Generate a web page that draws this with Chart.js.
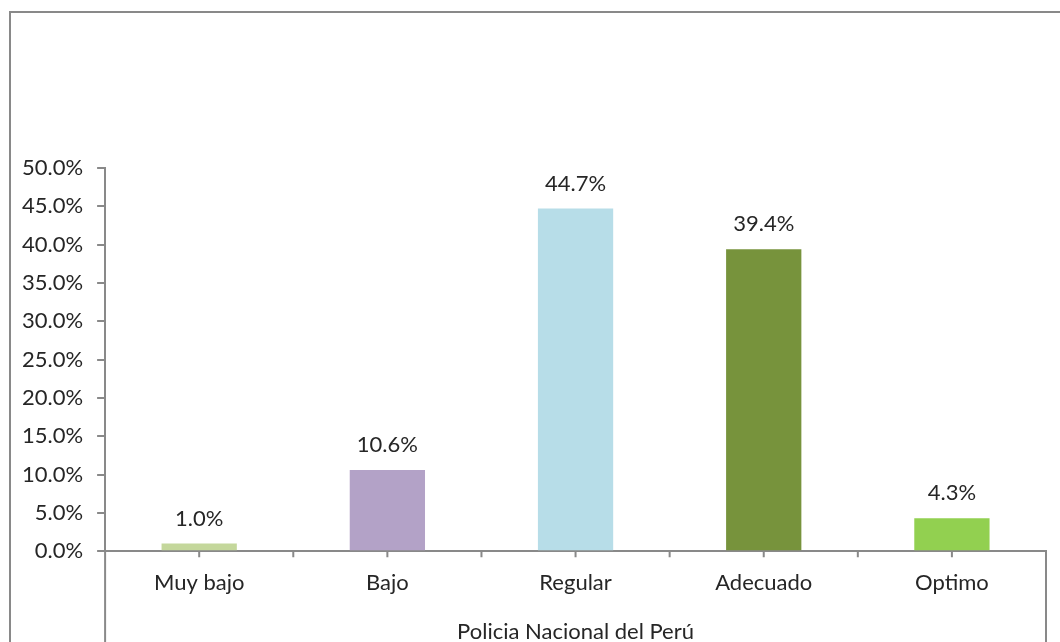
<!DOCTYPE html>
<html>
<head>
<meta charset="utf-8">
<script src="https://cdn.jsdelivr.net/npm/chart.js@4.4.1/dist/chart.umd.min.js"></script>
<style>
    html, body { margin: 0; padding: 0; background: #fff; }
    #wrap { width: 1060px; height: 642px; position: relative; }
</style>
</head>
<body>
<div id="wrap"><canvas id="nivelChart"></canvas></div>
<script>
// datos del gráfico
const categorias = ["Muy bajo", "Bajo", "Regular", "Adecuado", "Optimo"];
const porcentajes = [1.0, 10.6, 44.7, 39.4, 4.3];
const colores = ["#c4d79b", "#b3a2c7", "#b7dde8", "#77933c", "#92d050"];
const tituloEje = "Policia Nacional del Perú";

const FUENTE = "Lato, 'Open Sans', sans-serif";
const GRIS = "#898989";
const TEXTO = "#262626";

// etiquetas encima de las barras + marco y líneas de la categoría
const extras = {
    id: "extras",
    afterDraw(chart) {
        const ctx = chart.ctx;
        const x = chart.scales.x;
        const area = chart.chartArea;
        const alto = chart.height;

        ctx.save();
        ctx.strokeStyle = GRIS;
        ctx.lineWidth = 2;

        // marco exterior
        ctx.beginPath();
        ctx.moveTo(10, alto);
        ctx.lineTo(10, 12);
        ctx.lineTo(chart.width, 12);
        ctx.stroke();

        // líneas verticales del grupo de categorías
        ctx.beginPath();
        ctx.moveTo(area.left, area.bottom);
        ctx.lineTo(area.left, alto);
        ctx.moveTo(area.right, area.bottom);
        ctx.lineTo(area.right, alto);

        // marcas en centros y límites
        const paso = (area.right - area.left) / categorias.length;
        for (let i = 0; i < categorias.length; i++) {
            const cx = x.getPixelForValue(i);
            ctx.moveTo(cx, area.bottom);
            ctx.lineTo(cx, area.bottom + 6);
            if (i > 0) {
                const bx = cx - paso / 2;
                ctx.moveTo(bx, area.bottom);
                ctx.lineTo(bx, area.bottom + 6);
            }
        }
        ctx.stroke();

        // valores
        ctx.fillStyle = TEXTO;
        ctx.font = "22px " + FUENTE;
        ctx.textAlign = "center";
        ctx.textBaseline = "middle";
        chart.getDatasetMeta(0).data.forEach((bar, i) => {
            ctx.fillText(porcentajes[i].toFixed(1) + "%", bar.x, bar.y - 25);
        });
        ctx.restore();
    }
};

new Chart(document.getElementById("nivelChart"), {
    type: "bar",
    data: {
        labels: categorias,
        datasets: [{
            data: porcentajes,
            backgroundColor: colores,
            barPercentage: 0.4,
            categoryPercentage: 1.0
        }]
    },
    options: {
        responsive: true,
        maintainAspectRatio: false,
        animation: false,
        layout: {
            padding: { top: 168, left: 8, right: 14, bottom: 0 }
        },
        plugins: {
            legend: { display: false },
            tooltip: { enabled: false }
        },
        scales: {
            y: {
                min: 0,
                max: 50,
                ticks: {
                    stepSize: 5,
                    color: TEXTO,
                    padding: 14,
                    font: { family: FUENTE, size: 22 },
                    callback: v => v.toFixed(1) + "%"
                },
                grid: {
                    drawOnChartArea: false,
                    drawTicks: true,
                    tickLength: 8,
                    color: GRIS,
                    lineWidth: 2
                },
                border: { color: GRIS, width: 2 }
            },
            x: {
                ticks: {
                    color: TEXTO,
                    padding: 11,
                    font: { family: FUENTE, size: 22 }
                },
                grid: { display: false },
                border: { color: GRIS, width: 2 },
                title: {
                    display: true,
                    text: tituloEje,
                    color: TEXTO,
                    font: { family: FUENTE, size: 22 },
                    padding: { top: 11, bottom: -3 }
                }
            }
        }
    },
    plugins: [extras]
});
</script>
</body>
</html>
